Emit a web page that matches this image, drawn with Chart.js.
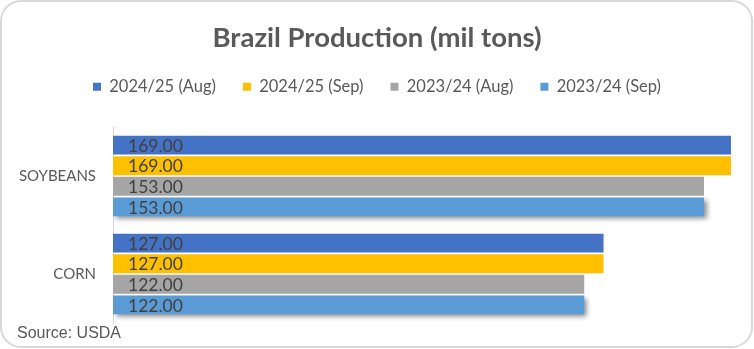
<!DOCTYPE html>
<html>
<head>
<meta charset="utf-8">
<script src="https://cdn.jsdelivr.net/npm/chart.js@4/dist/chart.umd.min.js"></script>
<style>
html, body { margin: 0; padding: 0; background: #fff; }
</style>
</head>
<body>
<canvas id="chart" width="754" height="349"></canvas>
<script>
// categories and series
const categories = ['SOYBEANS', 'CORN']
const seriesNames = ['2024/25 (Aug)', '2024/25 (Sep)', '2023/24 (Aug)', '2023/24 (Sep)']
const aug2425 = [169, 127]
const sep2425 = [169, 127]
const aug2324 = [153, 122]
const sep2324 = [153, 122]
const seriesColors = ['#4472C4', '#FFC000', '#A5A5A5', '#5B9BD5']
const sourceText = 'Source: USDA'

const textGrey = '#595959'

// labels drawn inside each bar, near its start
const barLabels = {
    id: 'barLabels',
    afterDatasetsDraw(chart) {
        const ctx = chart.ctx
        const base = chart.scales.x.getPixelForValue(0)
        ctx.save()
        ctx.font = '17.5px Lato'
        ctx.fillStyle = '#404040'
        ctx.textAlign = 'left'
        ctx.textBaseline = 'middle'
        chart.data.datasets.forEach((ds, i) => {
            chart.getDatasetMeta(i).data.forEach((bar, j) => {
                ctx.fillText(ds.data[j].toFixed(2), base + 15, bar.y + 1)
            })
        })
        ctx.restore()
    }
}

// shadow under the last series only
const lastShadow = {
    id: 'lastShadow',
    beforeDatasetDraw(chart, args) {
        if (args.index !== 3) return
        const ctx = chart.ctx
        ctx.save()
        ctx.shadowColor = 'rgba(0,0,0,0.45)'
        ctx.shadowBlur = 5
        ctx.shadowOffsetX = 3
        ctx.shadowOffsetY = 3
    },
    afterDatasetDraw(chart, args) {
        if (args.index !== 3) return
        chart.ctx.restore()
    }
}

// card border and source note
const frame = {
    id: 'frame',
    afterDraw(chart) {
        const ctx = chart.ctx
        ctx.save()
        ctx.strokeStyle = '#d9d9d9'
        ctx.lineWidth = 2
        ctx.beginPath()
        ctx.roundRect(1, 1, 751, 346, 20)
        ctx.stroke()
        ctx.font = '16px "Liberation Sans"'
        ctx.fillStyle = textGrey
        ctx.textBaseline = 'alphabetic'
        ctx.fillText(sourceText, 17, 338)
        ctx.restore()
    }
}

const seriesData = [aug2425, sep2425, aug2324, sep2324]

const data = {
    labels: categories,
    datasets: seriesNames.map((name, i) => ({
        label: name,
        data: seriesData[i],
        backgroundColor: seriesColors[i],
        borderWidth: 0,
        categoryPercentage: 0.84,
        barPercentage: 0.92,
        clip: 0
    }))
}

const chart = new Chart(document.getElementById('chart').getContext('2d'), {
    type: 'bar',
    data,
    plugins: [lastShadow, barLabels, frame],
    options: {
        indexAxis: 'y',
        responsive: false,
        animation: false,
        layout: { padding: { left: 0, right: 0, top: 0, bottom: 20 } },
        scales: {
            x: {
                position: 'top',
                min: 0,
                max: 160,
                ticks: { display: false },
                grid: { display: false },
                border: { display: false },
                afterFit: s => { s.height = 22 }
            },
            y: {
                grid: { color: 'transparent', drawTicks: false },
                border: { display: true, color: '#d9d9d9', width: 1 },
                ticks: { color: textGrey, font: { family: 'Lato', size: 15 }, padding: 17 },
                afterFit: s => { s.width = 113 }
            },
            // empty space on the right of the bars
            rightGap: {
                type: 'linear',
                axis: 'y',
                position: 'right',
                ticks: { display: false },
                grid: { display: false },
                border: { display: false },
                afterFit: s => { s.width = 23 }
            }
        },
        plugins: {
            title: {
                display: true,
                text: 'Brazil Production (mil tons)',
                color: textGrey,
                font: { family: 'Lato', size: 27.5, weight: 'bold', lineHeight: 1 },
                padding: { top: 24, bottom: 0 }
            },
            legend: {
                labels: {
                    color: textGrey,
                    font: { family: 'Lato', size: 16.5 },
                    boxWidth: 8,
                    boxHeight: 8,
                    padding: 27
                }
            },
            tooltip: { enabled: false }
        }
    }
})
</script>
</body>
</html>
